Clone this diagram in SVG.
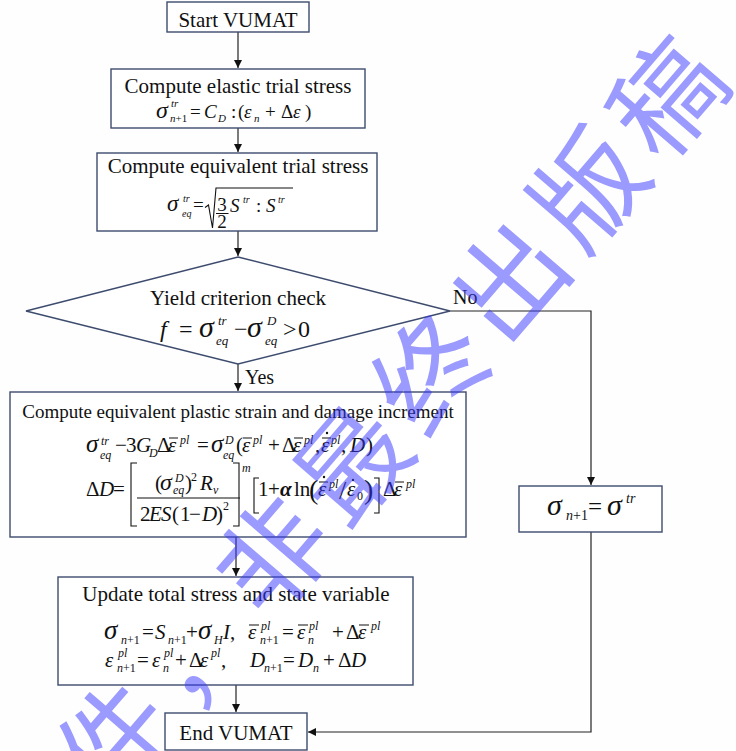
<svg xmlns="http://www.w3.org/2000/svg" width="736" height="751" viewBox="0 0 736 751">
<defs>
<style>
.bx{fill:#fff;stroke:#3d4c6e;stroke-width:1.4}
.cn{fill:none;stroke:#222;stroke-width:1.2}
.t{font-family:"Liberation Serif","Times New Roman",serif;fill:#111}
.h{font-size:21px}
.c{text-anchor:middle}
.i{font-style:italic}
.s{font-size:12px}
.br{fill:none;stroke:#111;stroke-width:1.1}
.wm{font-family:"Noto Sans CJK SC","Noto Sans CJK JP",sans-serif;font-size:110px;letter-spacing:11px;fill:#3535ff;fill-opacity:0.5}
</style>
<marker id="ah" viewBox="0 0 10 10" refX="10" refY="5" markerWidth="8" markerHeight="8" markerUnits="userSpaceOnUse" orient="auto">
<path d="M0,0 L10,5 L0,10 z" fill="#111"/>
</marker>
</defs>
<rect width="736" height="751" fill="#fefefe"/>

<g id="connectors">
<path class="cn" d="M238,32 V68" marker-end="url(#ah)"/>
<path class="cn" d="M238,128 V152" marker-end="url(#ah)"/>
<path class="cn" d="M238,231 V256" marker-end="url(#ah)"/>
<path class="cn" d="M238,364 V391" marker-end="url(#ah)"/>
<path class="cn" d="M236,537 V576" marker-end="url(#ah)"/>
<path class="cn" d="M236,685 V712" marker-end="url(#ah)"/>
<path class="cn" d="M450,311 H591 V485" marker-end="url(#ah)"/>
<path class="cn" d="M591,532 V732 H308" marker-end="url(#ah)"/>
<text class="t" x="453" y="304" style="font-size:20px">No</text>
<text class="t" x="245" y="384" style="font-size:20px">Yes</text>
</g>

<g id="start">
<rect class="bx" x="167" y="2" width="142" height="30"/>
<text class="t h c" x="238" y="27">Start VUMAT</text>
</g>

<g id="elastic">
<rect class="bx" x="111" y="69" width="254" height="59"/>
<text class="t h c" x="238" y="93">Compute elastic trial stress</text>
<text class="t" style="font-size:19px">
<tspan class="i" x="156" y="118" font-size="24">σ</tspan>
<tspan class="i" x="171" y="107" font-size="11">tr</tspan>
<tspan x="170" y="122" font-size="11"><tspan class="i">n</tspan>+1</tspan>
<tspan x="190" y="118">=</tspan>
<tspan class="i" x="204" y="118">C</tspan>
<tspan class="i" x="218" y="122" font-size="11">D</tspan>
<tspan x="231" y="118">:</tspan>
<tspan x="238" y="118">(</tspan>
<tspan class="i" x="244" y="118">ε</tspan>
<tspan class="i" x="254" y="122" font-size="11">n</tspan>
<tspan x="265" y="118">+</tspan>
<tspan x="281" y="118">Δ</tspan>
<tspan class="i" x="293" y="118">ε</tspan>
<tspan x="305" y="118">)</tspan>
</text>
</g>

<g id="equivalent">
<rect class="bx" x="97" y="153" width="280" height="78"/>
<text class="t h c" x="238" y="173">Compute equivalent trial stress</text>
<text class="t" style="font-size:19px">
<tspan class="i" x="167" y="211" font-size="23">σ</tspan>
<tspan class="i" x="183" y="202" font-size="10">tr</tspan>
<tspan class="i" x="182" y="217" font-size="10">eq</tspan>
<tspan x="193" y="211">=</tspan>
<tspan class="i" x="230" y="212">S</tspan>
<tspan class="i" x="243" y="203" font-size="10">tr</tspan>
<tspan x="256" y="212">:</tspan>
<tspan class="i" x="266" y="212">S</tspan>
<tspan class="i" x="278" y="203" font-size="10">tr</tspan>
</text>
<text class="t c" style="font-size:19px"><tspan x="222" y="211">3</tspan><tspan x="222" y="228">2</tspan></text>
<path class="br" d="M216,213.5 H228.5 M205,207.5 L208.5,205 L212.5,228 L216,188 H293"/>
</g>

<g id="yield">
<polygon class="bx" points="238,257 450,311 238,364 26,311"/>
<text class="t h c" x="238" y="305">Yield criterion check</text>
<text class="t" style="font-size:24px">
<tspan class="i" x="160" y="337">f</tspan>
<tspan x="179" y="337">=</tspan>
<tspan class="i" x="199" y="337" font-size="30">σ</tspan>
<tspan class="i" x="218" y="325" font-size="13">tr</tspan>
<tspan class="i" x="216" y="345" font-size="13">eq</tspan>
<tspan x="234" y="337">−</tspan>
<tspan class="i" x="247" y="337" font-size="30">σ</tspan>
<tspan class="i" x="267" y="325" font-size="13">D</tspan>
<tspan class="i" x="265" y="345" font-size="13">eq</tspan>
<tspan x="283" y="337">&gt;</tspan>
<tspan x="298" y="337">0</tspan>
</text>
</g>

<g id="plastic">
<rect class="bx" x="10" y="392" width="456" height="145"/>
<text class="t c" x="238" y="418" style="font-size:19px">Compute equivalent plastic strain and damage increment</text>
<text class="t h">
<tspan class="i" x="86" y="452" font-size="25">σ</tspan>
<tspan class="i s" x="101" y="445">tr</tspan>
<tspan class="i s" x="100" y="459">eq</tspan>
<tspan x="115" y="452">−</tspan>
<tspan x="126" y="452">3</tspan>
<tspan class="i" x="136" y="452">G</tspan>
<tspan class="i s" x="149" y="457">D</tspan>
<tspan x="157" y="452">Δ</tspan>
<tspan class="i" x="168" y="452">ε</tspan>
<tspan class="i s" x="180" y="444">pl</tspan>
<tspan x="197" y="452">=</tspan>
<tspan class="i" x="211" y="452" font-size="25">σ</tspan>
<tspan class="i s" x="225" y="444">D</tspan>
<tspan class="i s" x="223" y="459">eq</tspan>
<tspan x="236" y="452">(</tspan>
<tspan class="i" x="242" y="452">ε</tspan>
<tspan class="i s" x="253" y="444">pl</tspan>
<tspan x="268" y="452">+</tspan>
<tspan x="282" y="452">Δ</tspan>
<tspan class="i" x="293" y="452">ε</tspan>
<tspan class="i s" x="304" y="444">pl</tspan>
<tspan x="315" y="452">,</tspan>
<tspan class="i" x="321" y="452">ε</tspan>
<tspan class="i s" x="331" y="444">pl</tspan>
<tspan x="341" y="452">,</tspan>
<tspan class="i" x="350" y="452">D</tspan>
<tspan x="366" y="452">)</tspan>
</text>
<path class="br" d="M169,438 H178 M243,438 H252 M294,438 H303 M322,438 H331"/>
<circle cx="327" cy="433" r="1.2" fill="#111"/>
<text class="t h">
<tspan x="86" y="496">Δ</tspan>
<tspan class="i" x="99" y="496">D</tspan>
<tspan x="113" y="496">=</tspan>
<tspan x="155" y="490">(</tspan>
<tspan class="i" x="160" y="490" font-size="24">σ</tspan>
<tspan class="i s" x="175" y="482">D</tspan>
<tspan class="i s" x="173" y="494">eq</tspan>
<tspan x="185" y="490">)</tspan>
<tspan class="s" x="191" y="481">2</tspan>
<tspan class="i" x="200" y="490">R</tspan>
<tspan class="i s" x="213" y="494">v</tspan>
<tspan x="140" y="521">2</tspan>
<tspan class="i" x="149" y="521">E</tspan>
<tspan class="i" x="161" y="521">S</tspan>
<tspan x="172" y="521">(</tspan>
<tspan x="180" y="521">1</tspan>
<tspan x="189" y="521">−</tspan>
<tspan class="i" x="202" y="521">D</tspan>
<tspan x="216" y="521">)</tspan>
<tspan class="s" x="223" y="510">2</tspan>
<tspan class="i s" x="242" y="472">m</tspan>
<tspan x="258" y="496">1</tspan>
<tspan x="268" y="496">+</tspan>
<tspan class="i" x="280" y="496" font-weight="bold">α</tspan>
<tspan x="294" y="496">ln</tspan>
<tspan x="309" y="499" font-size="28">(</tspan>
<tspan class="i" x="318" y="496">ε</tspan>
<tspan class="i s" x="329" y="488">pl</tspan>
<tspan x="339" y="499" font-size="26">/</tspan>
<tspan class="i" x="347" y="496">ε</tspan>
<tspan class="s" x="357" y="500">0</tspan>
<tspan x="364" y="499" font-size="28">)</tspan>
<tspan x="383" y="496">Δ</tspan>
<tspan class="i" x="394" y="496">ε</tspan>
<tspan class="i s" x="406" y="488">pl</tspan>
</text>
<path class="br" d="M137,498 H240 M137,463 H131 V526 H137 M233,463 H239 V526 H233 M259,478 H254 V513 H259 M374,478 H379 V513 H374 M319,482 H328 M395,482 H404"/>
<circle cx="324" cy="477" r="1.2" fill="#111"/>
<circle cx="353" cy="480" r="1.2" fill="#111"/>
</g>

<g id="update">
<rect class="bx" x="58" y="577" width="355" height="108"/>
<text class="t h c" x="236" y="601">Update total stress and state variable</text>
<text class="t h">
<tspan class="i" x="104" y="639" font-size="27">σ</tspan>
<tspan class="s" x="121" y="644"><tspan class="i">n</tspan>+1</tspan>
<tspan x="142" y="639">=</tspan>
<tspan class="i" x="155" y="639">S</tspan>
<tspan class="s" x="168" y="644"><tspan class="i">n</tspan>+1</tspan>
<tspan x="186" y="639">+</tspan>
<tspan class="i" x="198" y="639" font-size="27">σ</tspan>
<tspan class="i s" x="214" y="644">H</tspan>
<tspan class="i" x="223" y="639">I</tspan>
<tspan x="230" y="639">,</tspan>
<tspan class="i" x="248" y="639">ε</tspan>
<tspan class="i s" x="261" y="630">pl</tspan>
<tspan class="s" x="260" y="644"><tspan class="i">n</tspan>+1</tspan>
<tspan x="282" y="639">=</tspan>
<tspan class="i" x="297" y="639">ε</tspan>
<tspan class="i s" x="309" y="630">pl</tspan>
<tspan class="i s" x="308" y="644">n</tspan>
<tspan x="332" y="639">+</tspan>
<tspan x="346" y="639">Δ</tspan>
<tspan class="i" x="358" y="639">ε</tspan>
<tspan class="i s" x="371" y="630">pl</tspan>
<tspan class="i" x="105" y="667">ε</tspan>
<tspan class="i s" x="118" y="657">pl</tspan>
<tspan class="s" x="117" y="672"><tspan class="i">n</tspan>+1</tspan>
<tspan x="137" y="667">=</tspan>
<tspan class="i" x="152" y="667">ε</tspan>
<tspan class="i s" x="164" y="657">pl</tspan>
<tspan class="i s" x="163" y="672">n</tspan>
<tspan x="175" y="667">+</tspan>
<tspan x="189" y="667">Δ</tspan>
<tspan class="i" x="200" y="667">ε</tspan>
<tspan class="i s" x="211" y="657">pl</tspan>
<tspan x="221" y="667">,</tspan>
<tspan class="i" x="250" y="667">D</tspan>
<tspan class="s" x="264" y="672"><tspan class="i">n</tspan>+1</tspan>
<tspan x="283" y="667">=</tspan>
<tspan class="i" x="298" y="667">D</tspan>
<tspan class="i s" x="313" y="672">n</tspan>
<tspan x="323" y="667">+</tspan>
<tspan x="338" y="667">Δ</tspan>
<tspan class="i" x="351" y="667">D</tspan>
</text>
<path class="br" d="M249,625 H259 M298,625 H308 M359,625 H369"/>
</g>

<g id="noyield">
<rect class="bx" x="519" y="486" width="143" height="46"/>
<text class="t" style="font-size:25px">
<tspan class="i" x="547" y="515" font-size="30">σ</tspan>
<tspan font-size="14" x="566" y="520"><tspan class="i">n</tspan>+1</tspan>
<tspan x="588" y="515">=</tspan>
<tspan class="i" x="607" y="515" font-size="30">σ</tspan>
<tspan class="i" font-size="14" x="626" y="503">tr</tspan>
</text>
</g>

<g id="end">
<rect class="bx" x="165" y="713" width="142" height="37"/>
<text class="t h c" x="236" y="740">End VUMAT</text>
</g>

<g id="watermark">
<text class="wm" transform="translate(110,808) rotate(-49.3)" x="0" y="0">件，非最终出版稿</text>
</g>
</svg>
